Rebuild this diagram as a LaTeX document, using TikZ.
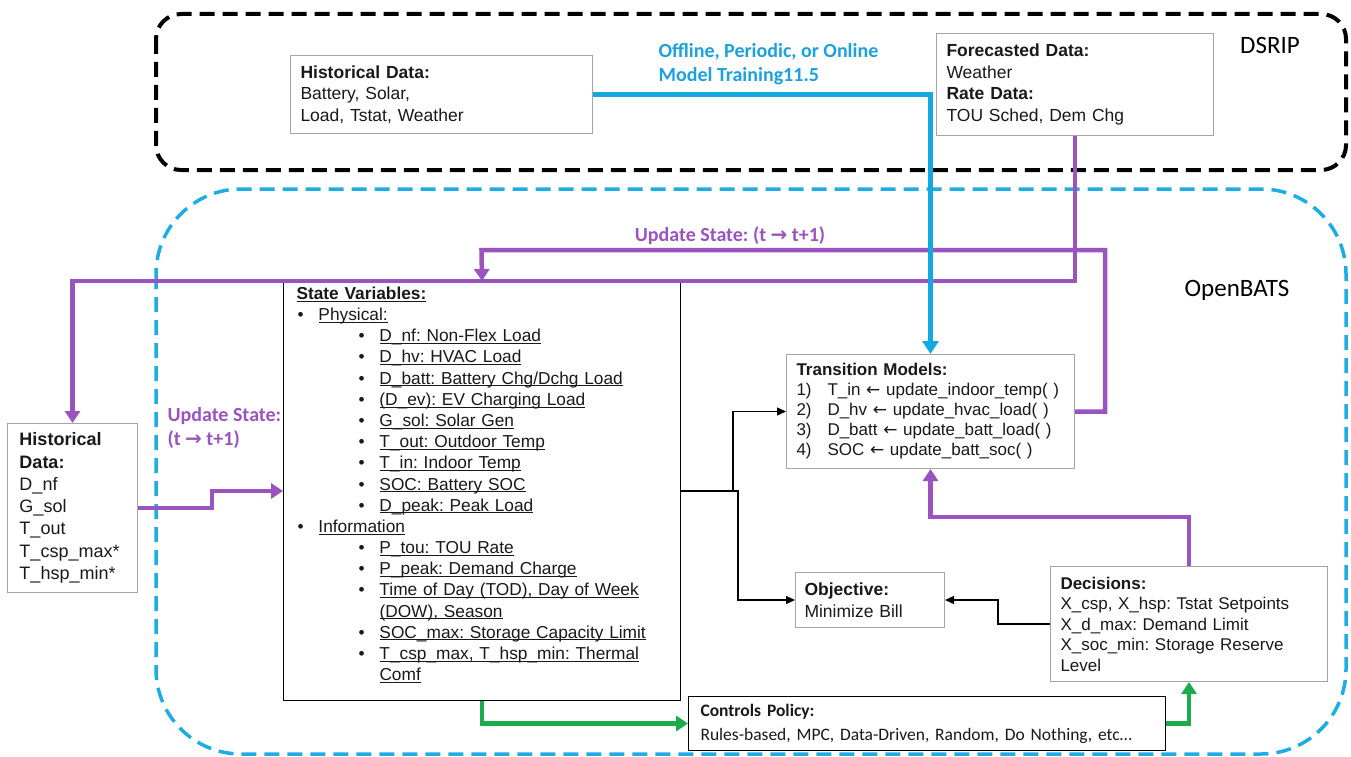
\documentclass[tikz,border=0pt]{standalone}
\usepackage{fontspec}
\setmainfont{Liberation Sans}
\newfontfamily\califont{Carlito}
\newfontfamily\arrfont{DejaVu Sans}
\usetikzlibrary{arrows.meta}

\definecolor{lineblue}{RGB}{20,168,225}
\definecolor{labelblue}{RGB}{28,160,222}
\definecolor{dashblue}{RGB}{30,172,228}
\definecolor{lpurple}{RGB}{155,83,192}
\definecolor{lgreen}{RGB}{28,172,78}
\definecolor{boxgray}{RGB}{165,165,165}
\definecolor{txt}{RGB}{25,25,25}

\newcommand{\rarr}{{\arrfont →}}
\newcommand{\larr}{{\arrfont ←}}
\newcommand{\ulx}[1]{\underline{\smash{#1}}}
\newcommand{\bulA}[1]{\hspace*{1pt}\makebox[21pt][l]{\textbullet}\ulx{#1}}
\newcommand{\bulB}[1]{\hspace*{62pt}\makebox[21pt][l]{\textbullet}\ulx{#1}}
\newcommand{\bulC}[1]{\hspace*{83pt}\ulx{#1}}
\newcommand{\num}[1]{\makebox[31pt][l]{#1}}

\begin{document}
\frenchspacing
\begin{tikzpicture}[x=1pt, y=-1pt,
  box/.style={draw=boxgray, line width=1pt, fill=white, anchor=north west, align=left,
    inner xsep=10pt, inner ysep=0pt, text=txt, font=\fontsize{17.5}{21.5}\selectfont},
  region/.style={line width=4pt, dash pattern=on 15pt off 8pt},
  purplearrow/.style={draw=lpurple, line width=4.5pt, -{Triangle[width=15pt,length=12pt]}},
  bluearrow/.style={draw=lineblue, line width=4.5pt, -{Triangle[width=16pt,length=13pt]}},
  greenarrow/.style={draw=lgreen, line width=4.5pt, -{Triangle[width=15pt,length=12pt]}},
  thinarrow/.style={draw=black, line width=1.3pt, -{Triangle[width=8pt,length=9pt]}},
  flowlabel/.style={font=\califont\bfseries\fontsize{20}{24}\selectfont, align=left}]
  \useasboundingbox (0,0) rectangle (1351,757);

  % the two regions
  \draw[region, draw=black, rounded corners=25pt] (156,14) rectangle (1346,170);
  \draw[region, draw=dashblue, line width=3.5pt, rounded corners=85pt] (156,189) rectangle (1346,754);
  \node[font=\califont\fontsize{25}{30}\selectfont] (dsrip) at (1270,45) {DSRIP};
  \node[font=\califont\fontsize{25}{30}\selectfont] (openbats) at (1237,290) {OpenBATS};

  % data boxes
  \node[box, text width=282pt, minimum height=78pt] (histtop) at (290,55)
    {\textbf{Historical Data:}\\Battery, Solar,\\Load, Tstat, Weather};
  \node[box, text width=257pt, minimum height=102pt] (fcast) at (936,33)
    {\textbf{Forecasted Data:}\\Weather\\\textbf{Rate Data:}\\TOU Sched, Dem Chg};
  \node[box, inner xsep=12pt, text width=106pt, minimum height=169pt,
    font=\fontsize{18}{22.3}\selectfont] (hleft) at (7,423)
    {\textbf{Historical}\\\textbf{Data:}\\D\_nf\\G\_sol\\T\_out\\T\_csp\_max*\\T\_hsp\_min*};

  % state variables
  \node[box, draw=black, inner xsep=13pt, text width=371pt, minimum height=419pt,
    font=\fontsize{17.3}{21.17}\selectfont] (state) at (283,281)
    {\textbf{\ulx{State Variables:}}\\
     \bulA{Physical:}\\
     \bulB{D\_nf: Non-Flex Load}\\
     \bulB{D\_hv: HVAC Load}\\
     \bulB{D\_batt: Battery Chg/Dchg Load}\\
     \bulB{(D\_ev): EV Charging Load}\\
     \bulB{G\_sol: Solar Gen}\\
     \bulB{T\_out: Outdoor Temp}\\
     \bulB{T\_in: Indoor Temp}\\
     \bulB{SOC: Battery SOC}\\
     \bulB{D\_peak: Peak Load}\\
     \bulA{Information}\\
     \bulB{P\_tou: TOU Rate}\\
     \bulB{P\_peak: Demand Charge}\\
     \bulB{Time of Day (TOD), Day of Week}\\
     \bulC{(DOW), Season}\\
     \bulB{SOC\_max: Storage Capacity Limit}\\
     \bulB{T\_csp\_max, T\_hsp\_min: Thermal}\\
     \bulC{Comf}};

  % models, objective, decisions, policy
  \node[box, text width=268pt, minimum height=114pt, font=\fontsize{17}{20}\selectfont] (trans) at (786,354)
    {\textbf{Transition Models:}\\
     \num{1)}T\_in \larr{} update\_indoor\_temp( )\\
     \num{2)}D\_hv \larr{} update\_hvac\_load( )\\
     \num{3)}D\_batt \larr{} update\_batt\_load( )\\
     \num{4)}SOC \larr{} update\_batt\_soc( )};
  \node[box, inner xsep=9pt, text width=131pt, minimum height=55pt] (obj) at (795,572)
    {\textbf{Objective:}\\Minimize Bill};
  \node[box, text width=257pt, minimum height=115pt, font=\fontsize{17}{20.5}\selectfont] (dec) at (1050,566)
    {\textbf{Decisions:}\\X\_csp, X\_hsp: Tstat Setpoints\\X\_d\_max: Demand Limit\\X\_soc\_min: Storage Reserve\\Level};
  \node[box, draw=black, inner xsep=12pt, text width=453pt, minimum height=54pt,
    font=\califont\fontsize{17.5}{24}\selectfont] (ctrl) at (688,696)
    {\textbf{Controls Policy:}\\Rules-based, MPC, Data-Driven, Random, Do Nothing, etc…};

  % connectors
  \coordinate (upd) at (481.5,250);
  \draw[purplearrow] (trans.east) -- ++(30,0) |- (upd) -- (state.north);   % update state loop
  \draw[purplearrow] (fcast.south) |- (hleft.north |- state.north) -- (hleft.north);
  \draw[purplearrow] (hleft.east) -- ++(74,0) |- (state.west);
  \draw[purplearrow] (dec.north) -- ++(0,-49) -| (trans.south);
  \draw[bluearrow] (histtop.east) -| (trans.north);                        % model training
  \draw[thinarrow] (state.east) -- ++(57,0) |- (obj.west);
  \draw[thinarrow] (state.east) -- ++(52,0) |- (trans.west);
  \draw[thinarrow] (dec.west) -- ++(-52,0) |- (obj.east);
  \draw[greenarrow] (state.south) |- (ctrl.west);
  \draw[greenarrow] (ctrl.east) -| (dec.south);

  % labels
  \node[flowlabel, text=labelblue, anchor=north west] (trainlbl) at (655,40)
    {Offline, Periodic, or Online\\Model Training11.5};
  \node[flowlabel, text=lpurple] (updlbl) at (730,236) {Update State: (t \rarr{} t+1)};
  \node[flowlabel, text=lpurple, anchor=north west] (updlbl2) at (164,404)
    {Update State:\\(t \rarr{} t+1)};
\end{tikzpicture}
\end{document}
